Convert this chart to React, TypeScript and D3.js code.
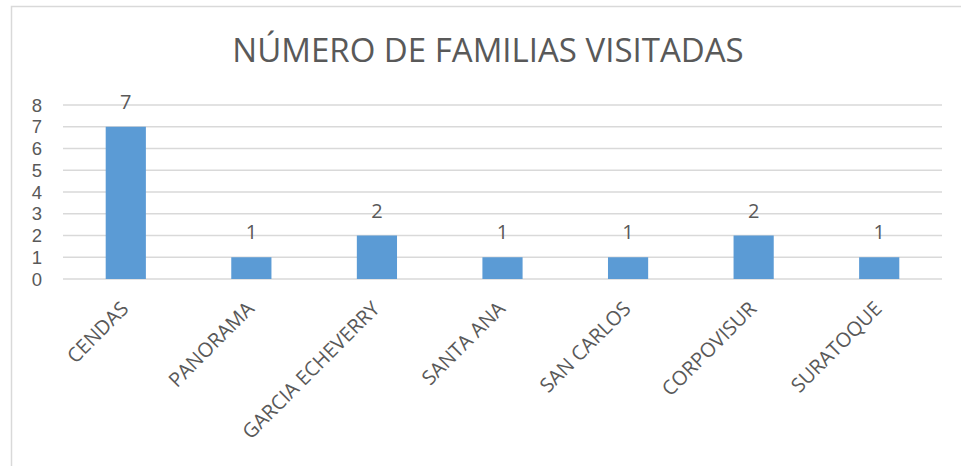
import React from "react";
import * as d3 from "d3";

const categories = ["CENDAS", "PANORAMA", "GARCIA ECHEVERRY", "SANTA ANA", "SAN CARLOS", "CORPOVISUR", "SURATOQUE"];
const values = [7, 1, 2, 1, 1, 2, 1];
const yTicks = [0, 1, 2, 3, 4, 5, 6, 7, 8];
const title = "NÚMERO DE FAMILIAS VISITADAS";

export default function App() {
  const W = 961, H = 466;
  const left = 63, right = 942, top = 105, bottom = 279;
  const x = d3.scaleBand().domain(categories).range([left, right]).paddingInner(0.68).paddingOuter(0.34);
  const y = d3.scaleLinear().domain([0, 8]).range([bottom, top]);
  const font = "'Open Sans', 'Liberation Sans', sans-serif";
  const tickFont = "'Liberation Sans', sans-serif";
  const col = "#595959";
  return (
    <svg width={W} height={H} style={{ position: "absolute", left: 0, top: 0 }}>
      <rect x={0} y={0} width={W} height={H} fill="#fff" />
      <rect x={11.5} y={6.5} width={1000} height={600} fill="#fff" stroke="#d9d9d9" strokeWidth={1.5} />
      <text x={488} y={62} textAnchor="middle" fontFamily={font} fontSize={33} fill={col}>{title}</text>
      {yTicks.map(t => (
        <g key={t}>
          <line x1={left} x2={right} y1={y(t)} y2={y(t)} stroke="#d9d9d9" strokeWidth={1.5} />
          <text x={42} y={y(t)} dy="0.36em" textAnchor="end" fontFamily={tickFont} fontSize={18.5} fill={col}>{t}</text>
        </g>
      ))}
      {categories.map((c, i) => {
        const bx = x(c)!;
        const cx = bx + x.bandwidth() / 2;
        return (
          <g key={c}>
            <rect x={bx} y={y(values[i])} width={x.bandwidth()} height={y(0) - y(values[i])} fill="#5b9bd5" />
            <text x={cx} y={y(values[i]) - 18} textAnchor="middle" fontFamily={font} fontSize={20} fill={col}>{values[i]}</text>
            <text transform={`translate(${cx + 4},${bottom + 31}) rotate(-45)`} textAnchor="end" fontFamily={font} fontSize={20} fill={col}>{c}</text>
          </g>
        );
      })}
    </svg>
  );
}
